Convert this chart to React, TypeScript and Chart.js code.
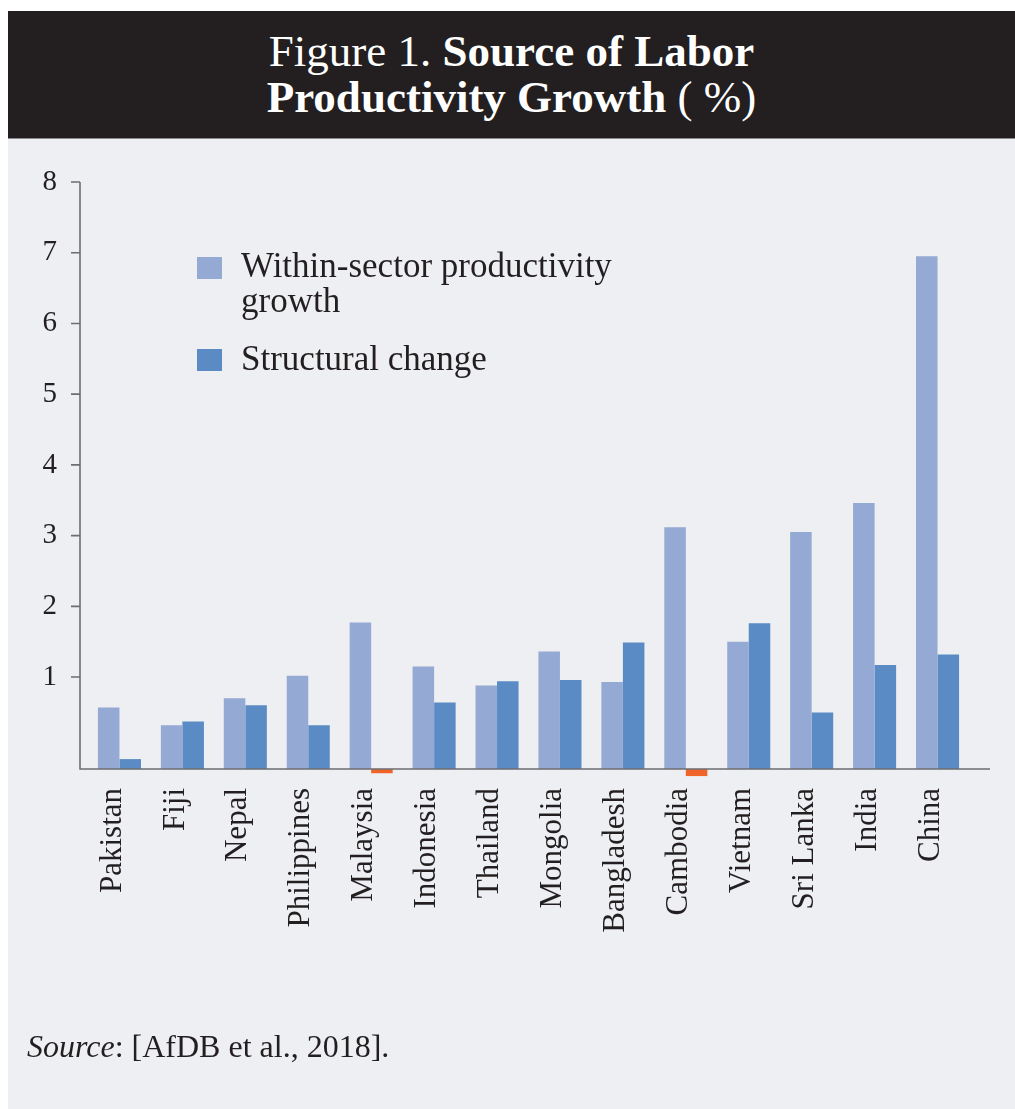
import React, { useEffect, useRef } from "react";
import { Chart, registerables } from "chart.js";

Chart.register(...registerables);

// ---- data ----
const CATEGORIES = [
  "Pakistan",
  "Fiji",
  "Nepal",
  "Philippines",
  "Malaysia",
  "Indonesia",
  "Thailand",
  "Mongolia",
  "Bangladesh",
  "Cambodia",
  "Vietnam",
  "Sri Lanka",
  "India",
  "China",
];
const WITHIN_SECTOR = [0.57, 0.32, 0.7, 1.02, 1.77, 1.15, 0.88, 1.36, 0.93, 3.12, 1.5, 3.05, 3.46, 6.95];
const STRUCTURAL_CHANGE = [-0.16, 0.37, 0.6, 0.32, -0.36, 0.64, 0.94, 0.96, 1.49, -0.4, 1.76, 0.5, 1.17, 1.32];
const SERIES_LABELS = ["Within-sector productivity growth", "Structural change"];
const Y_TICKS = [1, 2, 3, 4, 5, 6, 7, 8];
const Y_MIN = -0.3;
const Y_MAX = 8;

// ---- style ----
const FONT = "'Liberation Serif', 'Times New Roman', serif";
const TEXT = "#231f20";
const WITHIN_COLOR = "#94a9d3";
const STRUCT_COLOR = "#5a8bc4";
const NEG_COLOR = "#f0642a";
const AXIS_COLOR = "#6d6e71";
const PANEL = "#eeeff3";
const HEADER = "#231f20";

const SERIES_COLORS = [WITHIN_COLOR, STRUCT_COLOR];

const axisLines = {
  id: "axisLines",
  afterDatasetsDraw(chart: any) {
    const { ctx, chartArea, scales } = chart;
    const y = scales.y;
    const ax = chartArea.left - 8;
    ctx.save();
    ctx.strokeStyle = AXIS_COLOR;
    ctx.lineWidth = 1.6;
    ctx.beginPath();
    ctx.moveTo(ax, y.getPixelForValue(Y_MAX));
    ctx.lineTo(ax, chartArea.bottom);
    ctx.moveTo(ax - 0.8, chartArea.bottom);
    ctx.lineTo(chartArea.right + 21, chartArea.bottom);
    y.ticks.forEach((t: any) => {
      const py = y.getPixelForValue(t.value);
      ctx.moveTo(ax - 9, py);
      ctx.lineTo(ax, py);
    });
    ctx.stroke();
    ctx.restore();
  },
};

export default function App() {
  const canvasRef = useRef<HTMLCanvasElement | null>(null);

  useEffect(() => {
    if (!canvasRef.current) return;
    const colorFor = (vals: number[], base: string) => vals.map((v) => (v < Y_MIN ? NEG_COLOR : base));
    const chart = new Chart(canvasRef.current, {
      type: "bar",
      data: {
        labels: CATEGORIES,
        datasets: [
          {
            label: SERIES_LABELS[0],
            data: WITHIN_SECTOR,
            backgroundColor: colorFor(WITHIN_SECTOR, WITHIN_COLOR),
            base: Y_MIN,
            clip: false,
            barPercentage: 1,
            categoryPercentage: 0.684,
          } as any,
          {
            label: SERIES_LABELS[1],
            data: STRUCTURAL_CHANGE,
            backgroundColor: colorFor(STRUCTURAL_CHANGE, STRUCT_COLOR),
            base: Y_MIN,
            clip: false,
            barPercentage: 1,
            categoryPercentage: 0.684,
          } as any,
        ],
      },
      options: {
        responsive: false,
        animation: false,
        layout: { padding: { top: 182, right: 46, bottom: 0, left: 0 } },
        plugins: { legend: { display: false }, tooltip: { enabled: false } },
        scales: {
          x: {
            grid: { display: false, drawTicks: false },
            border: { display: false },
            ticks: {
              autoSkip: false,
              maxRotation: 90,
              minRotation: 90,
              padding: 19,
              labelOffset: -7,
              color: TEXT,
              font: { family: FONT, size: 31 },
            },
            afterFit: (s: any) => {
              s.height = 340;
            },
          },
          y: {
            min: Y_MIN,
            max: Y_MAX,
            grid: { display: false, drawTicks: false },
            border: { display: false },
            afterBuildTicks: (s: any) => {
              s.ticks = Y_TICKS.map((v) => ({ value: v }));
            },
            ticks: {
              padding: 31,
              color: TEXT,
              font: { family: FONT, size: 29 },
            },
            afterFit: (s: any) => {
              s.width = 88;
            },
          },
        },
      } as any,
      plugins: [axisLines],
    });
    return () => chart.destroy();
  }, []);

  const abs = (o: React.CSSProperties): React.CSSProperties => ({ position: "absolute", ...o });

  return (
    <div style={abs({ left: 0, top: 0, width: 1015, height: 1109, background: "#fff", overflow: "hidden", fontFamily: FONT })}>
      <div style={abs({ left: 8, top: 11, width: 1007, height: 128, background: HEADER, borderBottom: "1px solid #8a8a8c", boxSizing: "border-box" })} />
      <div style={abs({ left: 8, top: 139, width: 1007, height: 970, background: PANEL })} />
      <div style={abs({ left: 8, top: 28, width: 1007, textAlign: "center", color: "#fff", fontSize: 45, lineHeight: "46px", whiteSpace: "nowrap" })}>
        Figure 1. <b>Source of Labor</b>
        <br />
        <b>Productivity Growth</b> ( %)
      </div>
      <canvas ref={canvasRef} width={1015} height={1109} style={abs({ left: 0, top: 0, width: 1015, height: 1109 })} />
      {SERIES_LABELS.map((label, i) => (
        <React.Fragment key={label}>
          <div style={abs({ left: 197, top: i === 0 ? 257 : 349, width: 25, height: 22, background: SERIES_COLORS[i] })} />
          <div style={abs({ left: 241, top: i === 0 ? 248 : 341, width: 390, color: TEXT, fontSize: 35, lineHeight: "35px" })}>{label}</div>
        </React.Fragment>
      ))}
      <div style={abs({ left: 27, top: 1030, color: TEXT, fontSize: 32, lineHeight: "32px", whiteSpace: "nowrap" })}>
        <i>Source</i>: [AfDB et al., 2018].
      </div>
    </div>
  );
}
